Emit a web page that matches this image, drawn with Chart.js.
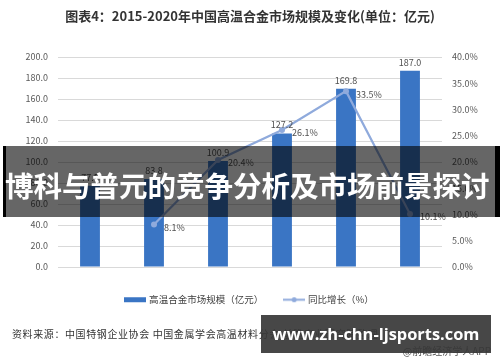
<!DOCTYPE html>
<html>
<head>
<meta charset="utf-8">
<script src="https://cdn.jsdelivr.net/npm/chart.js@4.4.1/dist/chart.umd.min.js"></script>
<style>
  html, body { margin: 0; padding: 0; background: #fff; }
  #wrap { position: relative; width: 500px; height: 362px; overflow: hidden; font-family: "Noto Sans CJK SC", sans-serif; }
  #chart { position: absolute; left: 0; top: 0; }
  .title { position: absolute; left: 0; top: 6px; width: 500px; text-align: center; font-size: 13px; font-weight: bold; color: #333; }
  .source { position: absolute; left: 12px; top: 326px; font-size: 10px; color: #333; letter-spacing: 0.6px; white-space: nowrap; }
  .app { position: absolute; right: 9px; top: 343px; font-size: 10px; color: #555; }
  .banner { position: absolute; left: 3px; top: 146px; width: 497px; height: 71px; box-sizing: border-box;
            background: rgba(0,0,0,0.6); border-left: 3px solid #000; border-right: 5px solid #000; }
  .banner span { position: absolute; left: -1px; top: 0; color: #fff; font-size: 28.5px; font-weight: bold;
                 line-height: 78px; white-space: nowrap; }
  .url { position: absolute; left: 261px; top: 315px; width: 230px; height: 38px; background: rgba(55,55,55,0.92);
         color: #fff; font-family: "Open Sans", sans-serif; font-weight: bold; font-size: 16.4px; line-height: 38px; text-align: center; }
</style>
</head>
<body>
<div id="wrap">
  <canvas id="chart" width="500" height="362"></canvas>
  <div class="title">图表4：2015-2020年中国高温合金市场规模及变化(单位：亿元)</div>
  <div class="source">资料来源：中国特钢企业协会 中国金属学会高温材料分会 前瞻产业研究院整理</div>
  <div class="app">@前瞻经济学人APP</div>
  <div class="banner"><span>博科与普元的竞争分析及市场前景探讨</span></div>
  <div class="url">www.zh-chn-ljsports.com</div>
</div>
<script>
// 数据
const years = ["2015", "2016", "2017", "2018", "2019", "2020E"];
const marketSize = [77.5, 83.8, 100.9, 127.2, 169.8, 187.0];
const growthRate = [null, 8.1, 20.4, 26.1, 33.5, 10.1];
const seriesNames = ["高温合金市场规模（亿元）", "同比增长（%）"];
const sizeAxis = { min: 0, max: 200, step: 20 };
const rateAxis = { min: 0, max: 40, step: 5 };

const barColor = "#3a75c4";
const lineColor = "#8faadc";
const textColor = "#595959";
const fontFamily = '"Noto Sans CJK SC", sans-serif';

function legendIcon(kind) {
    const c = document.createElement("canvas");
    c.width = 22; c.height = 7;
    const g = c.getContext("2d");
    if (kind === "bar") {
        g.fillStyle = barColor;
        g.fillRect(0, 1, 22, 5);
    } else {
        g.strokeStyle = lineColor;
        g.lineWidth = 2;
        g.beginPath(); g.moveTo(0, 3.5); g.lineTo(22, 3.5); g.stroke();
        g.fillStyle = lineColor;
        g.beginPath(); g.arc(11, 3.5, 2.5, 0, Math.PI * 2); g.fill();
    }
    return c;
}

// 数值标签
const valueLabels = {
    id: "valueLabels",
    afterDatasetsDraw(chart) {
        const ctx = chart.ctx;
        ctx.save();
        ctx.font = "9px " + fontFamily;
        ctx.fillStyle = "#505050";
        chart.getDatasetMeta(0).data.forEach((bar, i) => {
            ctx.textAlign = "center";
            ctx.textBaseline = "bottom";
            ctx.fillText(marketSize[i].toFixed(1), bar.x, bar.y - 4);
        });
        chart.getDatasetMeta(1).data.forEach((pt, i) => {
            if (growthRate[i] == null) return;
            ctx.textAlign = "left";
            ctx.textBaseline = "middle";
            ctx.fillText(growthRate[i].toFixed(1) + "%", pt.x + 10, pt.y + 3);
        });
        ctx.restore();
    }
};

new Chart(document.getElementById("chart"), {
    data: {
        labels: years,
        datasets: [{
            type: "bar",
            label: seriesNames[0],
            data: marketSize,
            backgroundColor: barColor,
            yAxisID: "y",
            barPercentage: 0.31,
            categoryPercentage: 1,
            order: 2
        }, {
            type: "line",
            label: seriesNames[1],
            data: growthRate,
            borderColor: lineColor,
            backgroundColor: lineColor,
            borderWidth: 2.2,
            pointRadius: 3,
            pointBackgroundColor: lineColor,
            pointBorderWidth: 0,
            yAxisID: "y1",
            order: 1
        }]
    },
    options: {
        responsive: false,
        animation: false,
        devicePixelRatio: 1,
        layout: { padding: { top: 57, left: 0, right: 0, bottom: 47.5 } },
        scales: {
            x: {
                afterFit(s) { s.height = 6; },
                grid: { display: false, drawTicks: false },
                border: { display: false },
                ticks: { color: textColor, font: { size: 9, family: fontFamily }, padding: 8 }
            },
            y: {
                position: "left",
                min: sizeAxis.min, max: sizeAxis.max,
                afterFit(s) { s.width = 58; },
                grid: { color: "#d9d9d9", drawTicks: false },
                border: { display: false },
                ticks: { stepSize: sizeAxis.step, color: textColor, padding: 10,
                         font: { size: 9, family: fontFamily },
                         callback: v => v.toFixed(1) }
            },
            y1: {
                position: "right",
                min: rateAxis.min, max: rateAxis.max,
                afterFit(s) { s.width = 58; },
                grid: { display: false, drawTicks: false },
                border: { display: false },
                ticks: { stepSize: rateAxis.step, color: textColor, padding: 10,
                         font: { size: 9, family: fontFamily },
                         callback: v => v.toFixed(1) + "%" }
            }
        },
        plugins: {
            tooltip: { enabled: false },
            legend: {
                position: "bottom",
                labels: {
                    usePointStyle: true,
                    pointStyleWidth: 18,
                    boxHeight: 7,
                    padding: 22,
                    color: "#404040",
                    font: { size: 9.5, family: fontFamily },
                    generateLabels() {
                        return [
                            { text: seriesNames[0], pointStyle: legendIcon("bar"), datasetIndex: 0, hidden: false, lineWidth: 0, fontColor: "#404040" },
                            { text: seriesNames[1], pointStyle: legendIcon("line"), datasetIndex: 1, hidden: false, lineWidth: 0, fontColor: "#404040" }
                        ];
                    }
                }
            }
        }
    },
    plugins: [valueLabels]
});
</script>
</body>
</html>
